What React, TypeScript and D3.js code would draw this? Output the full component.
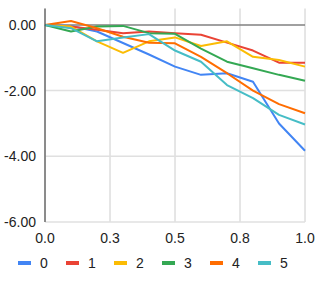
import React from "react";
import * as d3 from "d3";

const xs = [0, 0.1, 0.2, 0.3, 0.4, 0.5, 0.6, 0.7, 0.8, 0.9, 1.0];
const seriesNames = ["0", "1", "2", "3", "4", "5"];
const s0 = [0, -0.03, -0.2, -0.55, -0.9, -1.27, -1.52, -1.47, -1.73, -3.0, -3.83];
const s1 = [0, -0.05, -0.15, -0.25, -0.2, -0.25, -0.3, -0.54, -0.78, -1.15, -1.15];
const s2 = [0, -0.05, -0.5, -0.85, -0.5, -0.38, -0.64, -0.5, -0.97, -1.07, -1.27];
const s3 = [0, -0.2, -0.05, -0.03, -0.25, -0.27, -0.72, -1.12, -1.32, -1.52, -1.7];
const s4 = [0, 0.12, -0.1, -0.36, -0.54, -0.56, -0.97, -1.47, -2.0, -2.41, -2.69];
const s5 = [0, -0.1, -0.5, -0.38, -0.28, -0.78, -1.12, -1.83, -2.23, -2.74, -3.03];
const allSeries = [s0, s1, s2, s3, s4, s5];
const colors = ["#4285F4", "#EA4335", "#FBBC04", "#34A853", "#FF6D01", "#46BDC6"];
const xTicks = [0, 0.25, 0.5, 0.75, 1.0];
const yTicks = [0, -2, -4, -6];

export default function App() {
  const W = 318, H = 282;
  const x = d3.scaleLinear().domain([0, 1]).range([45, 305]);
  const y = d3.scaleLinear().domain([0.5, -6]).range([8.5, 222]);
  const line = d3.line<number>().x((_, i) => x(xs[i])).y((d) => y(d));
  const font = "Liberation Sans, Arial, sans-serif";
  return (
    <svg width={W} height={H} style={{ position: "absolute", left: 0, top: 0 }}>
      <rect width={W} height={H} fill="#fff" />
      {xTicks.map((t) => (
        <line key={"vx" + t} x1={x(t)} x2={x(t)} y1={y(0.5)} y2={y(-6)} stroke="#ccc" strokeWidth={1} />
      ))}
      {yTicks.filter((t) => t !== 0).map((t) => (
        <line key={"hy" + t} x1={x(0)} x2={x(1)} y1={y(t)} y2={y(t)} stroke="#e0e0e0" strokeWidth={1.5} />
      ))}
      <line x1={x(0)} x2={x(1)} y1={y(0)} y2={y(0)} stroke="#808080" strokeWidth={1.5} />
      {allSeries.map((s, i) => (
        <path key={i} d={line(s) || ""} fill="none" stroke={colors[i]} strokeWidth={2} strokeLinejoin="round" />
      ))}
      <line x1={x(0)} x2={x(0)} y1={y(0.5)} y2={y(-6)} stroke="#333" strokeWidth={1} />
      {yTicks.map((t) => (
        <text key={"yl" + t} x={36} y={y(t)} dy="0.35em" textAnchor="end" fontFamily={font} fontSize={14} fill="#222">
          {d3.format(".2f")(t).replace("−", "-")}
        </text>
      ))}
      {xTicks.map((t) => (
        <text key={"xl" + t} x={x(t)} y={243} textAnchor="middle" fontFamily={font} fontSize={14} fill="#222">
          {d3.format(".1f")(t)}
        </text>
      ))}
      {seriesNames.map((n, i) => (
        <g key={"lg" + n} transform={`translate(${18 + i * 48},263)`}>
          <rect x={0} y={-2} width={13} height={4} fill={colors[i]} />
          <text x={22} y={0} dy="0.35em" fontFamily={font} fontSize={14} fill="#222">{n}</text>
        </g>
      ))}
    </svg>
  );
}
